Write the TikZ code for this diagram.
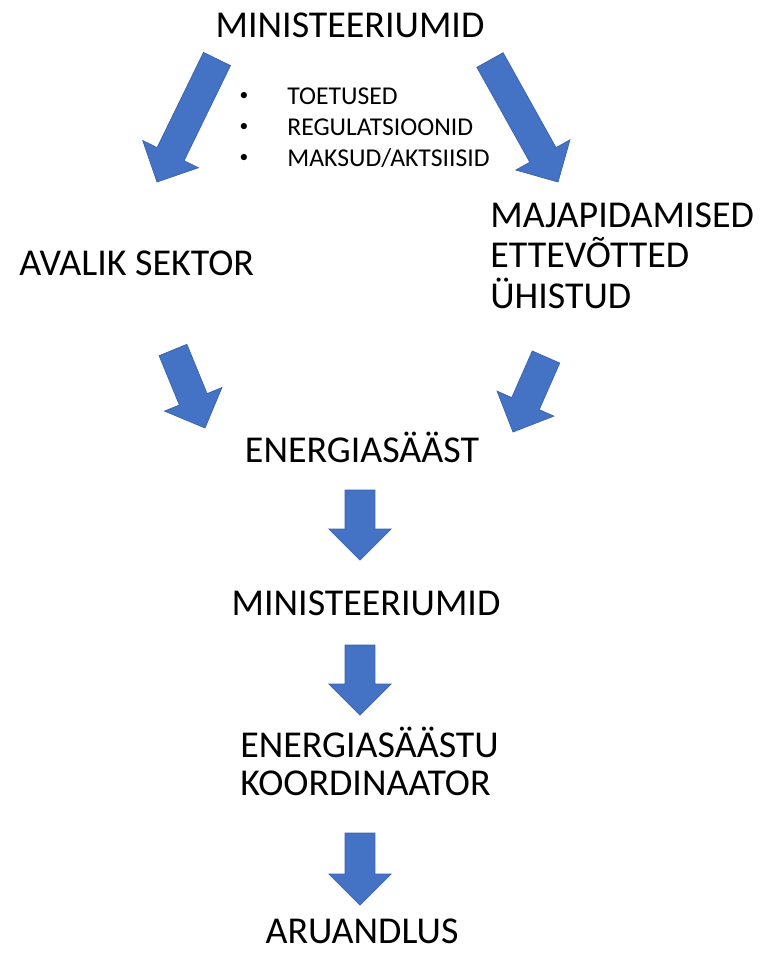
\documentclass[tikz,border=0pt]{standalone}
\usepackage{fontspec}
\setmainfont{Carlito}
\usetikzlibrary{calc}
\definecolor{arrowblue}{HTML}{4472C4}
\definecolor{arrowedge}{HTML}{3A62AC}
\tikzstyle{bigtext} = [inner sep=0pt, font=\fontsize{21.6pt}{22.8pt}\selectfont]
\tikzstyle{smalltext} = [inner sep=0pt, font=\fontsize{14.6pt}{17pt}\selectfont]
\tikzstyle{dot} = [inner sep=0pt, font=\fontsize{10pt}{12pt}\selectfont]
\tikzstyle{blockfill} = [fill=arrowblue, draw=arrowedge, line width=0.4pt]

% block arrow from tail centre #1 to tip #2
\newcommand{\blockarrow}[2]{%
  \coordinate (hb) at ($(#2)!0.62cm!(#1)$);
  \filldraw[blockfill] ($(#1)!0.3cm!90:(#2)$) -- ($(hb)!0.3cm!-90:(#1)$)
    -- ($(hb)!0.62cm!-90:(#1)$) -- (#2) -- ($(hb)!0.62cm!90:(#1)$)
    -- ($(hb)!0.3cm!90:(#1)$) -- ($(#1)!0.3cm!-90:(#2)$) -- cycle;}

\begin{document}
\begin{tikzpicture}[x=0.02cm, y=-0.02cm]
    \useasboundingbox (0,0) rectangle (765,958);

    \node[bigtext, anchor=base] (min1) at (350,37) {MINISTEERIUMID};

    \node[dot, anchor=base] (dot1) at (244,100) {•};
    \node[dot, anchor=base] (dot2) at (244,131) {•};
    \node[dot, anchor=base] (dot3) at (244,162) {•};
    \node[smalltext, anchor=base west] (item1) at (287,104) {TOETUSED};
    \node[smalltext, anchor=base west] (item2) at (287,135) {REGULATSIOONID};
    \node[smalltext, anchor=base west] (item3) at (287,166) {MAKSUD/AKTSIISID};

    \node[bigtext, anchor=base west] (avalik) at (19,275) {AVALIK SEKTOR};
    \node[bigtext, anchor=base west, align=left] (erasektor) at (490,308)
        {MAJAPIDAMISED\\ETTEVÕTTED\\ÜHISTUD};

    \node[bigtext, anchor=base] (saast) at (362,462) {ENERGIASÄÄST};
    \node[bigtext, anchor=base] (min2) at (366,615) {MINISTEERIUMID};
    \node[bigtext, anchor=base west, align=left] (koord) at (240,795)
        {ENERGIASÄÄSTU\\[-1.2pt]KOORDINAATOR};
    \node[bigtext, anchor=base] (aruandlus) at (362,943) {ARUANDLUS};

    % arrows
    \coordinate (a1s) at (217,59);  \coordinate (a1e) at (157,182);
    \coordinate (a2s) at (490,60);  \coordinate (a2e) at (558,182);
    \coordinate (a3s) at (173,350); \coordinate (a3e) at (205,428);
    \coordinate (a4s) at (546,357); \coordinate (a4e) at (513,432);
    \coordinate (a5s) at (360,490); \coordinate (a5e) at (360,560);
    \coordinate (a6s) at (360,645); \coordinate (a6e) at (360,715);
    \coordinate (a7s) at (360,833); \coordinate (a7e) at (360,905);

    \blockarrow{a1s}{a1e}
    \blockarrow{a2s}{a2e}
    \blockarrow{a3s}{a3e}
    \blockarrow{a4s}{a4e}
    \blockarrow{a5s}{a5e}
    \blockarrow{a6s}{a6e}
    \blockarrow{a7s}{a7e}

\end{tikzpicture}
\end{document}
